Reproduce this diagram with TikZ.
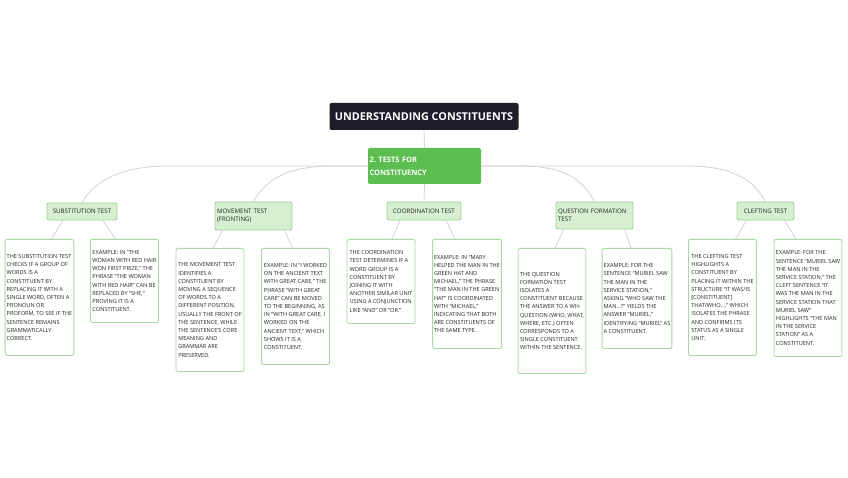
\documentclass[tikz,border=0pt]{standalone}
\usepackage{fontspec}
\setmainfont{Open Sans}
\frenchspacing

\definecolor{rootdark}{HTML}{201C2B}
\definecolor{topicgreen}{HTML}{5CBD51}
\definecolor{catfill}{HTML}{D6EFD0}
\definecolor{catline}{HTML}{9ED598}
\definecolor{leafline}{HTML}{A6DAA0}
\definecolor{linkgrey}{HTML}{D2D2D2}
\definecolor{bodytext}{HTML}{262626}

\begin{document}
\begin{tikzpicture}[x=1pt, y=1pt,
	link/.style={draw=linkgrey, line width=0.8pt},
	rootbox/.style={fill=rootdark, rounded corners=2pt, text=white, font=\fontsize{10.8}{12}\selectfont\bfseries},
	topicbox/.style={fill=topicgreen, rounded corners=2pt, text=white, align=left, inner sep=1.5pt, font=\fontsize{7.5}{13}\selectfont\bfseries},
	catbox/.style={fill=catfill, draw=catline, line width=0.9pt, rounded corners=2pt, text=bodytext, inner sep=2pt, font=\fontsize{6.2}{8.4}\selectfont},
	leafbox/.style={fill=white, draw=leafline, line width=0.9pt, rounded corners=2pt, anchor=north, minimum width=68pt, inner sep=1.5pt, align=left, text=bodytext, font=\fontsize{5.6}{8.2}\selectfont}]
	\useasboundingbox[fill=white] (0,0) rectangle (848,477);
	% Title and main topic:
	\node[rootbox, minimum width=189pt, minimum height=27pt] (root) at (424, 360.5) {UNDERSTANDING CONSTITUENTS};
	\node[topicbox, text width=110pt, minimum height=36pt] (tests) at (424.5, 311) {2. TESTS FOR\\CONSTITUENCY};
	% Test categories:
	\node[catbox, minimum width=70pt, minimum height=17pt] (subcat) at (82, 265.5) {SUBSTITUTION TEST};
	\node[catbox, text width=73pt, align=left, minimum height=28pt] (movcat) at (253.5, 261) {MOVEMENT TEST\\(FRONTING)};
	\node[catbox, minimum width=74pt, minimum height=18pt] (cocat) at (424, 266) {COORDINATION TEST};
	\node[catbox, text width=73pt, align=left, minimum height=27pt] (qcat) at (594.5, 261.5) {QUESTION FORMATION\\TEST};
	\node[catbox, minimum width=57pt, minimum height=18pt] (clcat) at (765.5, 266) {CLEFTING TEST};
	% Explanations and examples:
	\node[leafbox, minimum height=116pt] (subA) at (39.5, 238) {THE SUBSTITUTION TEST\\CHECKS IF A GROUP OF\\WORDS IS A\\CONSTITUENT BY\\REPLACING IT WITH A\\SINGLE WORD, OFTEN A\\PRONOUN OR\\PROFORM, TO SEE IF THE\\SENTENCE REMAINS\\GRAMMATICALLY\\CORRECT.};
	\node[leafbox, minimum height=83pt] (subB) at (124.5, 238) {EXAMPLE: IN “THE\\WOMAN WITH RED HAIR\\WON FIRST PRIZE,” THE\\PHRASE “THE WOMAN\\WITH RED HAIR” CAN BE\\REPLACED BY “SHE,”\\PROVING IT IS A\\CONSTITUENT.};
	\node[leafbox, minimum height=123pt] (movA) at (210, 229) {THE MOVEMENT TEST\\IDENTIFIES A\\CONSTITUENT BY\\MOVING A SEQUENCE\\OF WORDS TO A\\DIFFERENT POSITION,\\USUALLY THE FRONT OF\\THE SENTENCE, WHILE\\THE SENTENCE’S CORE\\MEANING AND\\GRAMMAR ARE\\PRESERVED.};
	\node[leafbox, minimum height=116pt] (movB) at (295.5, 229) {EXAMPLE: IN “I WORKED\\ON THE ANCIENT TEXT\\WITH GREAT CARE,” THE\\PHRASE “WITH GREAT\\CARE” CAN BE MOVED\\TO THE BEGINNING, AS\\IN “WITH GREAT CARE, I\\WORKED ON THE\\ANCIENT TEXT,” WHICH\\SHOWS IT IS A\\CONSTITUENT.};
	\node[leafbox, minimum height=84pt] (coA) at (381, 238) {THE COORDINATION\\TEST DETERMINES IF A\\WORD GROUP IS A\\CONSTITUENT BY\\JOINING IT WITH\\ANOTHER SIMILAR UNIT\\USING A CONJUNCTION\\LIKE “AND” OR “OR.”};
	\node[leafbox, minimum height=109pt] (coB) at (467, 238) {EXAMPLE: IN “MARY\\HELPED THE MAN IN THE\\GREEN HAT AND\\MICHAEL,” THE PHRASE\\“THE MAN IN THE GREEN\\HAT” IS COORDINATED\\WITH “MICHAEL,”\\INDICATING THAT BOTH\\ARE CONSTITUENTS OF\\THE SAME TYPE.};
	\node[leafbox, minimum height=125pt] (qA) at (552, 229) {THE QUESTION\\FORMATION TEST\\ISOLATES A\\CONSTITUENT BECAUSE\\THE ANSWER TO A WH-\\QUESTION (WHO, WHAT,\\WHERE, ETC.) OFTEN\\CORRESPONDS TO A\\SINGLE CONSTITUENT\\WITHIN THE SENTENCE.};
	\node[leafbox, minimum height=100pt] (qB) at (637, 229) {EXAMPLE: FOR THE\\SENTENCE “MURIEL SAW\\THE MAN IN THE\\SERVICE STATION,”\\ASKING “WHO SAW THE\\MAN...?” YIELDS THE\\ANSWER “MURIEL,”\\IDENTIFYING “MURIEL” AS\\A CONSTITUENT.};
	\node[leafbox, minimum height=116pt] (clA) at (722.5, 238) {THE CLEFTING TEST\\HIGHLIGHTS A\\CONSTITUENT BY\\PLACING IT WITHIN THE\\STRUCTURE “IT WAS/IS\\{[CONSTITUENT]}\\THAT/WHO...,” WHICH\\ISOLATES THE PHRASE\\AND CONFIRMS ITS\\STATUS AS A SINGLE\\UNIT.};
	\node[leafbox, minimum height=117pt] (clB) at (808, 238) {EXAMPLE: FOR THE\\SENTENCE “MURIEL SAW\\THE MAN IN THE\\SERVICE STATION,” THE\\CLEFT SENTENCE “IT\\WAS THE MAN IN THE\\SERVICE STATION THAT\\MURIEL SAW”\\HIGHLIGHTS “THE MAN\\IN THE SERVICE\\STATION” AS A\\CONSTITUENT.};
	% Connectors:
	\draw[link] (root.south) -- (tests.north);
	\draw[link] (tests.south) -- (cocat.north);
	\draw[link] (tests.west) -- +(-200,0) .. controls +(-45,0) and +(12,22) .. (subcat.north);
	\draw[link] (tests.west) -- +(-35,0) .. controls +(-45,0) and +(12,22) .. (movcat.north);
	\draw[link] (tests.east) -- +(39,0) .. controls +(45,0) and +(-12,22) .. (qcat.north);
	\draw[link] (tests.east) -- +(206,0) .. controls +(45,0) and +(-12,22) .. (clcat.north);
	\draw[link] ([xshift=-19pt]subcat.south) -- ([xshift=12pt]subA.north);
	\draw[link] ([xshift=21pt]subcat.south) -- ([xshift=-9pt]subB.north);
	\draw[link] ([xshift=-31pt]movcat.south) -- ([xshift=3pt]movA.north);
	\draw[link] ([xshift=31pt]movcat.south) -- ([xshift=-3pt]movB.north);
	\draw[link] ([xshift=-24pt]cocat.south) -- ([xshift=11pt]coA.north);
	\draw[link] ([xshift=22pt]cocat.south) -- ([xshift=-12pt]coB.north);
	\draw[link] ([xshift=-31pt]qcat.south) -- ([xshift=3pt]qA.north);
	\draw[link] ([xshift=30pt]qcat.south) -- ([xshift=-6pt]qB.north);
	\draw[link] ([xshift=-19pt]clcat.south) -- ([xshift=13pt]clA.north);
	\draw[link] ([xshift=19pt]clcat.south) -- ([xshift=-12pt]clB.north);
\end{tikzpicture}
\end{document}
